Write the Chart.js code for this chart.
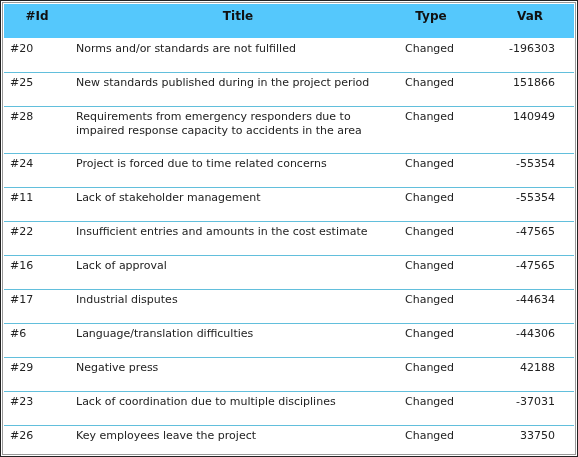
<!DOCTYPE html>
<html>
<head>
<meta charset="utf-8">
<script src="https://cdn.jsdelivr.net/npm/chart.js@4"></script>
<style>
  body { margin: 0; background: #fff; }
</style>
</head>
<body>
<canvas id="tbl" width="578" height="457"></canvas>
<script>
const headers = ["#Id", "Title", "Type", "VaR"];
const ids = ["#20", "#25", "#28", "#24", "#11", "#22", "#16", "#17", "#6", "#29", "#23", "#26"];
const titles = [
  ["Norms and/or standards are not fulfilled"],
  ["New standards published during in the project period"],
  ["Requirements from emergency responders due to", "impaired response capacity to accidents in the area"],
  ["Project is forced due to time related concerns"],
  ["Lack of stakeholder management"],
  ["Insufficient entries and amounts in the cost estimate"],
  ["Lack of approval"],
  ["Industrial disputes"],
  ["Language/translation difficulties"],
  ["Negative press"],
  ["Lack of coordination due to multiple disciplines"],
  ["Key employees leave the project"]
];
const types = ["Changed", "Changed", "Changed", "Changed", "Changed", "Changed", "Changed", "Changed", "Changed", "Changed", "Changed", "Changed"];
const vars = [-196303, 151866, 140949, -55354, -55354, -47565, -47565, -44634, -44306, 42188, -37031, 33750];

// row height = base + line height * number of lines (in y-scale units)
const BASE = 21, LINE = 13, HEAD = 38;
const rowTops = [];
let acc = HEAD;
titles.forEach(t => { rowTops.push(acc); acc += BASE + LINE * t.length; });

const tablePlugin = {
  id: "table",
  afterDraw(chart) {
    const ctx = chart.ctx;
    const x = chart.scales.x, y = chart.scales.y;
    const W = chart.width, H = chart.height;
    const px = v => Math.round(x.getPixelForValue(v));
    const py = v => Math.round(y.getPixelForValue(v));
    ctx.save();
    ctx.fillStyle = "#fff";
    ctx.fillRect(0, 0, W, H);
    // header band
    ctx.fillStyle = "#55c8fc";
    ctx.fillRect(px(4), py(4), px(574) - px(4), py(HEAD) - py(4));
    ctx.font = "bold 12px 'DejaVu Sans'";
    ctx.fillStyle = "#111";
    ctx.textAlign = "center";
    ctx.textBaseline = "middle";
    const hx = [37, 238, 431, 530];
    headers.forEach((h, i) => ctx.fillText(h, px(hx[i]), py(17)));
    // row separators
    ctx.fillStyle = "#62bfdc";
    for (let i = 1; i < rowTops.length; i++) {
      ctx.fillRect(px(4), py(rowTops[i]), px(574) - px(4), 1);
    }
    // rows
    ctx.font = "11px 'DejaVu Sans'";
    ctx.fillStyle = "#222";
    ctx.textBaseline = "alphabetic";
    ids.forEach((id, i) => {
      const top = rowTops[i];
      const base = py(top + 14);
      ctx.textAlign = "left";
      ctx.fillText(id, px(10), base);
      titles[i].forEach((line, j) => ctx.fillText(line, px(76), py(top + 14 + LINE * j + (j ? 1 : 0))));
      ctx.fillText(types[i], px(405), base);
      ctx.textAlign = "right";
      ctx.fillText(String(vars[i]), px(555), base);
    });
    // outer frame
    ctx.strokeStyle = "#222";
    ctx.lineWidth = 1;
    ctx.strokeRect(0.5, 0.5, W - 1, H - 1);
    ctx.strokeStyle = "#999";
    ctx.strokeRect(2.5, 2.5, W - 5, H - 5);
    ctx.restore();
  }
};

new Chart(document.getElementById("tbl"), {
  type: "scatter",
  data: { datasets: [] },
  options: {
    responsive: false,
    animation: false,
    devicePixelRatio: 1,
    layout: { padding: 0 },
    plugins: { legend: { display: false }, tooltip: { enabled: false } },
    scales: {
      x: { type: "linear", min: 0, max: 578, display: false },
      y: { type: "linear", min: 0, max: 457, reverse: true, display: false }
    }
  },
  plugins: [tablePlugin]
});
</script>
</body>
</html>
